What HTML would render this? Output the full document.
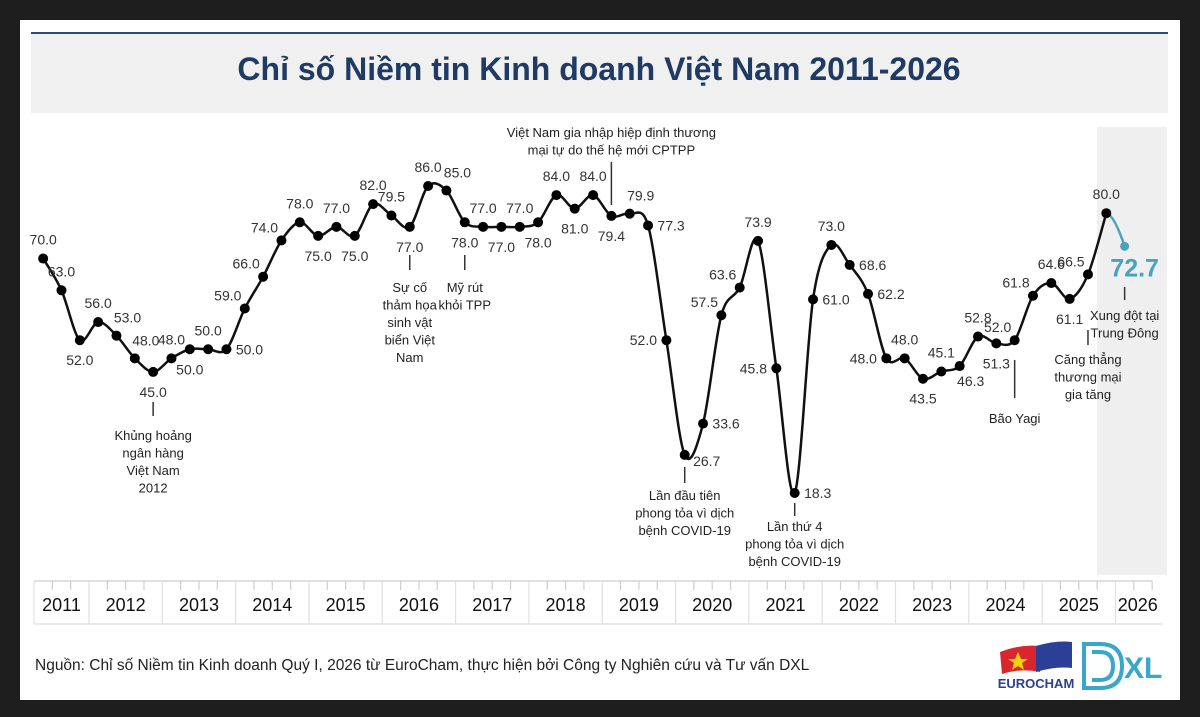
<!DOCTYPE html>
<html><head><meta charset="utf-8">
<style>
html,body{margin:0;padding:0;background:#1e1e1e;}
#wrap{position:relative;width:1200px;height:717px;background:#1e1e1e;overflow:hidden;font-family:"Liberation Sans",sans-serif;}
#card{position:absolute;left:20px;top:20px;width:1160px;height:680px;background:#fff;}
</style></head>
<body>
<div id="wrap">
<div id="card"></div>
<svg id="chart" width="1200" height="717" style="position:absolute;left:0;top:0">
  <rect x="31" y="32" width="1137" height="81" fill="#f0f0f0"/>
  <rect x="31" y="32" width="1137" height="2" fill="#2c4a72"/>
  <text x="599" y="80" text-anchor="middle" font-size="32" font-weight="bold" fill="#1f3b63" font-family="'Liberation Sans',sans-serif">Chỉ số Niềm tin Kinh doanh Việt Nam 2011-2026</text>
  <rect x="1097" y="127" width="70" height="448" fill="#efefef"/>
  <g id="axis"></g>
  <g id="annos"></g>
  <g id="series"></g>
  <text x="35" y="670" font-size="15.5" fill="#222">Nguồn: Chỉ số Niềm tin Kinh doanh Quý I, 2026 từ EuroCham, thực hiện bởi Công ty Nghiên cứu và Tư vấn DXL</text>
  <g>
    <path d="M1000 652 Q1020 644 1040 646 L1040 672 Q1020 668 1002 674 Z" fill="#d8262f"/>
    <polygon points="1018,652 1021,659 1028,659 1022,663 1024,670 1018,666 1012,670 1014,663 1008,659 1015,659" fill="#f5d000"/>
    <path d="M1036 646 Q1056 640 1072 642 L1072 668 Q1056 666 1036 672 Z" fill="#2a3f95"/>
    <text x="1036" y="688" text-anchor="middle" font-size="13" font-weight="bold" fill="#2a3f95">EUROCHAM</text>
  </g>
  <g fill="none" stroke="#3aa6c9" stroke-width="4">
    <path d="M1084 644 L1100 644 Q1122 644 1122 666 Q1122 688 1100 688 L1084 688 Z"/>
    <path d="M1092 652 L1100 652 Q1113 652 1113 666 Q1113 680 1100 680 L1092 680"/>
    <text x="1124" y="678" font-size="30" font-weight="bold" fill="#3aa6c9" stroke="none">XL</text>
  </g>
</svg>
</div>
<script>
const years = ["2011","2012","2013","2014","2015","2016","2017","2018","2019","2020","2021","2022","2023","2024","2025","2026"];
const quarters = ["2011Q2","2011Q3","2011Q4","2012Q1","2012Q2","2012Q3","2012Q4","2013Q1","2013Q2","2013Q3","2013Q4","2014Q1","2014Q2","2014Q3","2014Q4","2015Q1","2015Q2","2015Q3","2015Q4","2016Q1","2016Q2","2016Q3","2016Q4","2017Q1","2017Q2","2017Q3","2017Q4","2018Q1","2018Q2","2018Q3","2018Q4","2019Q1","2019Q2","2019Q3","2019Q4","2020Q1","2020Q2","2020Q3","2020Q4","2021Q1","2021Q2","2021Q3","2021Q4","2022Q1","2022Q2","2022Q3","2022Q4","2023Q1","2023Q2","2023Q3","2023Q4","2024Q1","2024Q2","2024Q3","2024Q4","2025Q1","2025Q2","2025Q3","2025Q4","2026Q1"];
const values = [70,63,52,56,53,48,45,48,50,50,50,59,66,74,78,75,77,75,82,79.5,77,86,85,78,77,77,77,78,84,81,84,79.4,79.9,77.3,52,26.7,33.6,57.5,63.6,73.9,45.8,18.3,61,73,68.6,62.2,48,48,43.5,45.1,46.3,52.8,51.3,52,61.8,64.6,61.1,66.5,80,72.7];
const labelPos = ["a","a","b","a","ar","ar","b","a","b","a","r","al","al","al","a","b","a","b","a","a","b","a","ar","b","a","b","a","b","a","b","a","b","ar","r","l","rb","r","al","al","a","l","r","r","a","r","r","l","a","b","a","br","a","b","al","al","a","b","al","a","x"];
const annotations = [
 {q:"2012Q4", lines:["Khủng hoảng","ngân hàng","Việt Nam","2012"], y1:402, y2:416, ty:440, name:"annotation-banking-crisis"},
 {q:"2016Q2", lines:["Sự cố","thảm họa","sinh vật","biển Việt","Nam"], y1:255, y2:270, ty:292, name:"annotation-marine-disaster"},
 {q:"2017Q1", lines:["Mỹ rút","khỏi TPP"], y1:255, y2:270, ty:292, name:"annotation-tpp-withdrawal"},
 {q:"2019Q1", lines:["Việt Nam gia nhập hiệp định thương","mại tự do thế hệ mới CPTPP"], y1:162, y2:205, ty:137, name:"annotation-cptpp"},
 {q:"2020Q1", lines:["Lần đầu tiên","phong tỏa vì dịch","bệnh COVID-19"], y1:467, y2:483, ty:500, name:"annotation-first-lockdown"},
 {q:"2021Q3", lines:["Lần thứ 4","phong tỏa vì dịch","bệnh COVID-19"], y1:503, y2:516, ty:531, name:"annotation-fourth-lockdown"},
 {q:"2024Q3", lines:["Bão Yagi"], y1:360, y2:398, ty:423, name:"annotation-typhoon-yagi"},
 {q:"2025Q3", lines:["Căng thẳng","thương mại","gia tăng"], y1:330, y2:345, ty:364, name:"annotation-trade-tension"},
 {q:"2026Q1", lines:["Xung đột tại","Trung Đông"], y1:287, y2:300, ty:320, name:"annotation-middle-east"}
];
const NS="http://www.w3.org/2000/svg";
const X0=34, QW=18.33, Y86=186, YS=4.535;
function xq(i){return X0+QW*(i+0.5);}
function yv(v){return Y86+(86-v)*YS;}
function mk(tag,attrs,parent){const e=document.createElementNS(NS,tag);for(const k in attrs)e.setAttribute(k,attrs[k]);parent.appendChild(e);return e;}
const axis=document.getElementById('axis'), annos=document.getElementById('annos'), ser=document.getElementById('series');
const axTop=581, axBot=624, xEnd=X0+QW*61;
let l=mk('line',{x1:X0,y1:axTop,x2:xEnd,y2:axTop,stroke:'#d6d6d6','stroke-width':1.5},axis);


l=mk('line',{x1:X0,y1:axBot,x2:xEnd+10,y2:axBot,stroke:'#e2e2e2','stroke-width':1.5},axis);


for(let k=0;k<=61;k++){
  const x=X0+QW*k;
  const major=(k===0)||((k-3)%4===0);
  const t=mk('line',{x1:x,y1:axTop,x2:x,y2:major?axBot:axTop+9,stroke:major?'#e0e0e0':'#cfcfcf','stroke-width':1.2},axis);
  
  
}
years.forEach((y,j)=>{
  const s = j===0?0:3+(j-1)*4; const e = j===0?3:Math.min(s+4,61);
  const cx = (X0+QW*s + X0+QW*e)/2 + (j===years.length-1?4:0);
  const t=mk('text',{x:cx,y:611,'text-anchor':'middle','font-size':18,fill:'#111'},axis);
  t.textContent=y;
  
  
});
annotations.forEach(a=>{
  const i=quarters.indexOf(a.q); const x=xq(i);
  const g=mk('g',{},annos);
  
  
  mk('line',{x1:x,y1:a.y1,x2:x,y2:a.y2,stroke:'#333','stroke-width':1.5},g);
  a.lines.forEach((ln,k)=>{
    const t=mk('text',{x:x,y:a.ty+k*17.5,'text-anchor':'middle','font-size':13,fill:'#222'},g);
    t.textContent=ln;
  });
});
function path(pts){
  let d='M'+pts[0][0]+','+pts[0][1];
  for(let i=0;i<pts.length-1;i++){
    const p0=pts[Math.max(0,i-1)],p1=pts[i],p2=pts[i+1],p3=pts[Math.min(pts.length-1,i+2)];
    const t=0.16;
    const c1=[p1[0]+(p2[0]-p0[0])*t,p1[1]+(p2[1]-p0[1])*t];
    const c2=[p2[0]-(p3[0]-p1[0])*t,p2[1]-(p3[1]-p1[1])*t];
    d+=' C'+c1[0]+','+c1[1]+' '+c2[0]+','+c2[1]+' '+p2[0]+','+p2[1];
  }
  return d;
}
const pts=values.map((v,i)=>[xq(i),yv(v)]);
const main=pts.slice(0,pts.length-1);
let p=mk('path',{d:path(main),fill:'none',stroke:'#111','stroke-width':2.5},ser);


const a1=pts[pts.length-2],a2=pts[pts.length-1];
p=mk('path',{d:'M'+a1[0]+','+a1[1]+' Q'+(a1[0]+8)+','+(a1[1]+2)+' '+a2[0]+','+a2[1],fill:'none',stroke:'#4aa3bd','stroke-width':2.5},ser);


const off={a:[0,-19],b:[0,20],l:[-23,0],r:[23,0],rb:[22,6],al:[-17,-13],ar:[11,-18],br:[11,15]};
values.forEach((v,i)=>{
  const [x,y]=pts[i]; const last=i===values.length-1;
  const c=mk('circle',{cx:x,cy:y,r:last?4.5:5,fill:last?'#4aa3bd':'#000'},ser);
  
  
  let t;
  if(last){
    t=mk('text',{x:x+10,y:y+30,'text-anchor':'middle','font-size':25,'font-weight':'bold',fill:'#4aa3bd'},ser);
  } else {
    const o=off[labelPos[i]];
    t=mk('text',{x:x+o[0],y:y+o[1]+5,'text-anchor':'middle','font-size':14,fill:'#333'},ser);
  }
  t.textContent=v.toFixed(1);
  
  
});
</script>
</body></html>
